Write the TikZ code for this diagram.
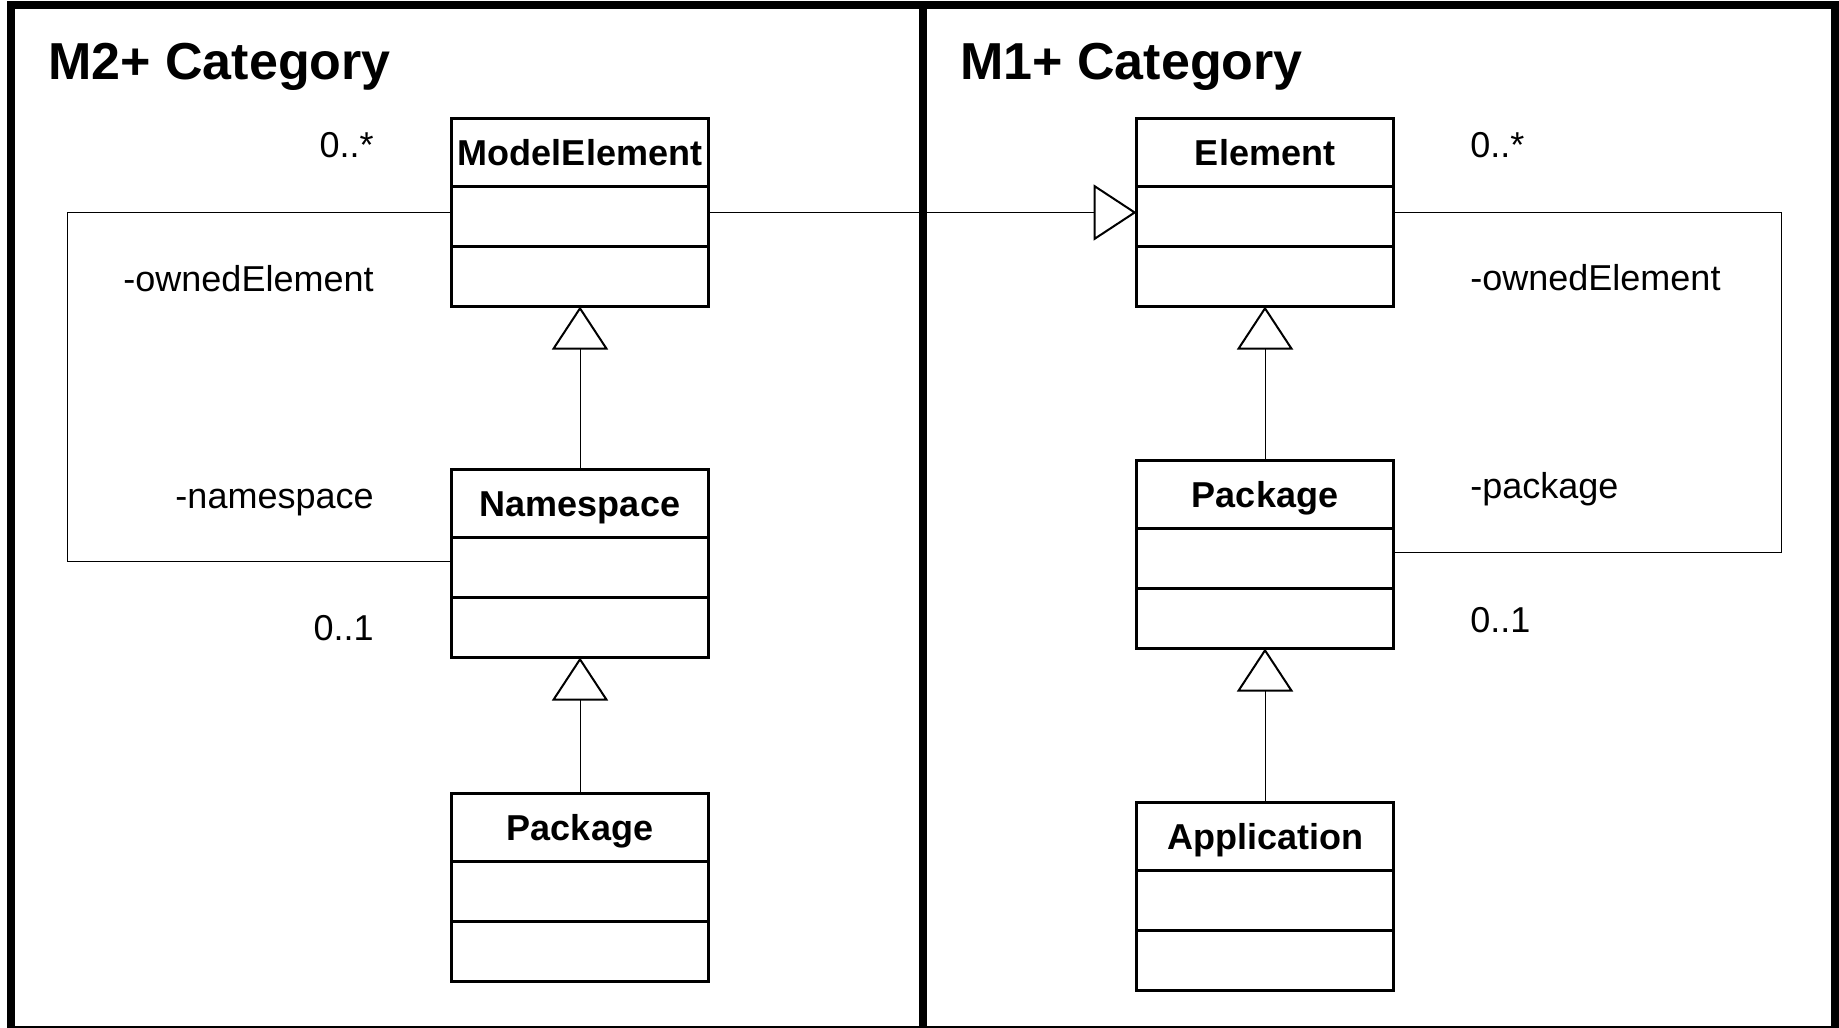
\documentclass[tikz,border=0pt]{standalone}
\usepackage{fontspec}
\setmainfont{Liberation Sans}
\usetikzlibrary{
	arrows.meta,
	positioning
}
\tikzset{
	>={Triangle[open, length=21.5pt, width=28pt, line width=1pt]},
	categoryframe/.style={line width=4pt},
	categorytitle/.style={font=\fontsize{26}{30}\selectfont\bfseries, inner sep=0pt, anchor=base west},
	classname/.style={draw, line width=1.2pt, minimum width=128.5pt, minimum height=34pt, inner sep=0pt, outer sep=0pt, text height=16.9pt, text depth=4pt, font=\fontsize{18}{21}\selectfont\bfseries},
	classpart/.style={draw, line width=1.2pt, minimum width=128.5pt, minimum height=30pt, inner sep=0pt, outer sep=0pt},
	generalization/.style={->, line width=0.5pt},
	association/.style={-, line width=0.5pt},
	rolelabel/.style={font=\fontsize{18}{21}\selectfont, inner sep=0pt}
}

\begin{document}
\begin{tikzpicture}[x=0.5pt, y=-0.5pt]
	\useasboundingbox (0,0) rectangle (1839,1027);
	\draw[categoryframe] (11,5.5) rectangle (1835,1029.5);
	\draw[categoryframe] (923,5.5) -- (923,1029.5);

	\node[categorytitle] (m2title) at (48,80) {M2+ Category};
	\node[categorytitle] (m1title) at (960,80) {M1+ Category};

	% M2+ classes
	\node[classname] (modelelement) at (580,152.5) {ModelElement};
	\node[classpart, below = 0pt of modelelement] (modelelement-attr) {};
	\node[classpart, below = 0pt of modelelement-attr] (modelelement-ops) {};
	\node[classname, below = 81.5pt of modelelement-ops] (namespace) {Namespace};
	\node[classpart, below = 0pt of namespace] (namespace-attr) {};
	\node[classpart, below = 0pt of namespace-attr] (namespace-ops) {};
	\node[classname, below = 68pt of namespace-ops] (m2package) {Package};
	\node[classpart, below = 0pt of m2package] (m2package-attr) {};
	\node[classpart, below = 0pt of m2package-attr] (m2package-ops) {};

	% M1+ classes
	\node[classname, right = 214pt of modelelement] (element) {Element};
	\node[classpart, below = 0pt of element] (element-attr) {};
	\node[classpart, below = 0pt of element-attr] (element-ops) {};
	\node[classname, below = 77pt of element-ops] (m1package) {Package};
	\node[classpart, below = 0pt of m1package] (m1package-attr) {};
	\node[classpart, below = 0pt of m1package-attr] (m1package-ops) {};
	\node[classname, below = 77pt of m1package-ops] (application) {Application};
	\node[classpart, below = 0pt of application] (application-attr) {};
	\node[classpart, below = 0pt of application-attr] (application-ops) {};

	% role labels
	\node[rolelabel, anchor=base east] (m2many) at (374,158) {0..*};
	\node[rolelabel, anchor=base east] (m2owned) at (374,291.5) {-ownedElement};
	\node[rolelabel, anchor=base east] (m2namespace) at (374,508.5) {-namespace};
	\node[rolelabel, anchor=base east] (m2one) at (374,640.5) {0..1};
	\node[rolelabel, anchor=base west] (m1many) at (1470,158) {0..*};
	\node[rolelabel, anchor=base west] (m1owned) at (1470,290) {-ownedElement};
	\node[rolelabel, anchor=base west] (m1package-role) at (1470,498) {-package};
	\node[rolelabel, anchor=base west] (m1one) at (1470,632) {0..1};

	\node[coordinate, left = 192pt of modelelement-attr.west, yshift=2pt] (m2turn) {};
	\node[coordinate, right = 194pt of element-attr.east, yshift=2pt] (m1turn) {};

	\draw[generalization] (namespace.north) -- (modelelement-ops.south);
	\draw[generalization] (m2package.north) -- (namespace-ops.south);
	\draw[generalization] (m1package.north) -- (element-ops.south);
	\draw[generalization] (application.north) -- (m1package-ops.south);
	\draw[generalization] ([yshift=2pt]modelelement-attr.east) -- ([yshift=2pt]element-attr.west);
	\draw[association] ([yshift=2pt]modelelement-attr.west) -- (m2turn) |- ([yshift=3pt]namespace-attr.west);
	\draw[association] ([yshift=2pt]element-attr.east) -- (m1turn) |- ([yshift=3pt]m1package-attr.east);
\end{tikzpicture}
\end{document}
